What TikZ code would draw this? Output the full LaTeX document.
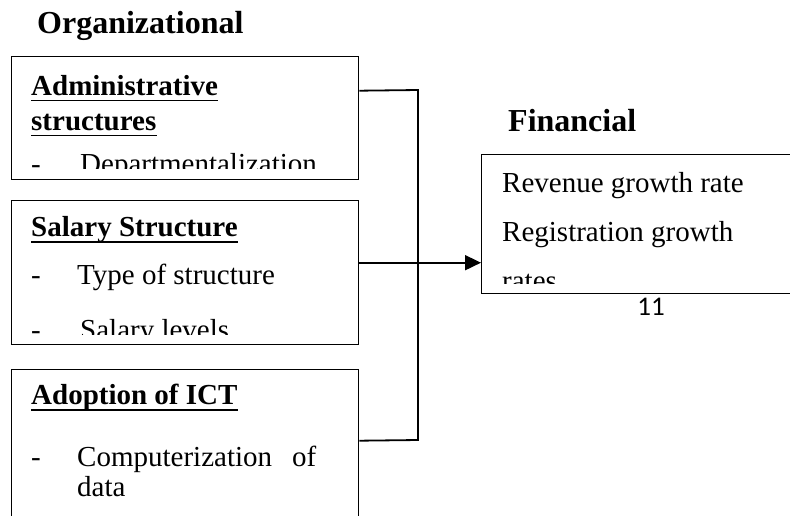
\documentclass[tikz,border=0pt]{standalone}
\usepackage{fontspec}
\setmainfont{Liberation Serif}
\newfontfamily\calfont{Carlito}
\usetikzlibrary{arrows.meta}
\begin{document}
\begin{tikzpicture}[x=1pt,y=-1pt,
  box/.style={draw,line width=1.4pt,inner sep=0pt,anchor=north west},
  conn/.style={line width=1.8pt},
  txt/.style={inner sep=0pt,anchor=base west,font=\fontsize{29}{34}\selectfont},
  head/.style={inner sep=0pt,anchor=base west,font=\fontsize{29}{34}\selectfont\bfseries},
  title/.style={inner sep=0pt,anchor=base west,font=\fontsize{32}{38}\selectfont\bfseries},
  uline/.style={line width=1.4pt}]
\useasboundingbox (0,0) rectangle (790,515);
\clip (0,0) rectangle (790,515);
\fill[white] (0,0) rectangle (790,515);

% titles
\node[title] (torg) at (37,33) {Organizational};
\node[title] (tfin) at (508,131) {Financial};

% boxes
\node[box,minimum width=347pt,minimum height=123pt] (b1) at (11,56) {};
\node[box,minimum width=347pt,minimum height=144pt] (b2) at (11,200) {};
\node[box,minimum width=347pt,minimum height=161pt] (b3) at (11,369) {};
\node[box,minimum width=330pt,minimum height=139pt] (fin) at (481,154) {};

% box 1 text
\begin{scope}
\clip (12,57) rectangle (357,168);
\node[head] (h1a) at (31,95) {Administrative};
\node[head] (h1b) at (31,130) {structures};
\node[txt] (d1) at (31,173) {-};
\node[txt] (i1) at (80,173) {Departmentalization};
\end{scope}
\draw[uline] ([yshift=-5.5pt]h1a.base west) -- ([yshift=-5.5pt]h1a.base east);
\draw[uline] ([yshift=-5.5pt]h1b.base west) -- ([yshift=-5.5pt]h1b.base east);

% box 2 text
\begin{scope}
\clip (12,201) rectangle (357,334);
\node[head] (h2) at (31,236) {Salary Structure};
\node[txt] (d2a) at (31,284) {-};
\node[txt] (i2a) at (77,284) {Type of structure};
\node[txt] (d2b) at (31,339) {-};
\node[txt] (i2b) at (80,339) {Salary levels};
\end{scope}
\draw[uline] ([yshift=-6pt]h2.base west) -- ([yshift=-6pt]h2.base east);

% box 3 text
\begin{scope}
\clip (12,370) rectangle (357,515);
\node[head] (h3) at (31,404) {Adoption of ICT};
\node[txt] (d3) at (31,466) {-};
\node[txt] (i3a) at (77,466) {Computerization};
\node[txt] (i3b) at (292,466) {of};
\node[txt] (i3c) at (77,496) {data};
\end{scope}
\draw[uline] ([yshift=-6pt]h3.base west) -- ([yshift=-6pt]h3.base east);

% financial box text
\begin{scope}
\clip (482,155) rectangle (790,283);
\node[txt] (f1) at (502,192) {Revenue growth rate};
\node[txt] (f2) at (502,241) {Registration growth};
\node[txt] (f3) at (502,290) {rates};
\end{scope}

% page number
\node[inner sep=0pt,anchor=base,font=\calfont\fontsize{27}{30}\selectfont] (pg) at (651,315) {11};

% connectors
\coordinate (j1) at (418,90);
\coordinate (j3) at (418,440);
\draw[conn] ([yshift=27.5pt]b1.east) -- (j1) -- (j3) -- ([yshift=9.5pt]b3.east);
\draw[conn,-{Triangle[length=16pt,width=15pt]}] ([yshift=10pt]b2.east) -- ([yshift=-38.5pt]fin.west);
\end{tikzpicture}
\end{document}
